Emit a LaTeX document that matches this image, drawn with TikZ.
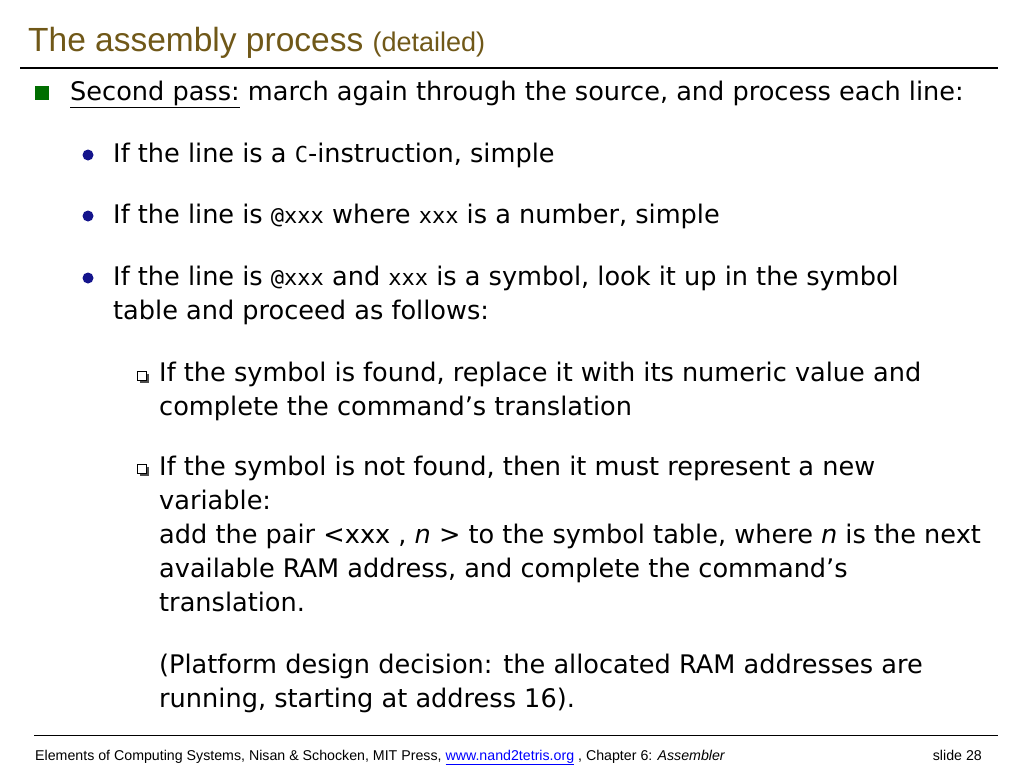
\documentclass[tikz,border=0pt]{standalone}
\usepackage{fontspec}
\setmainfont{DejaVu Sans}
\newfontfamily\titlefont{Liberation Sans}
\setmonofont{DejaVu Sans Mono}
\usetikzlibrary{positioning}
\definecolor{titlecol}{RGB}{112,88,24}
\definecolor{sqgreen}{RGB}{0,110,0}
\definecolor{dotblue}{RGB}{20,20,140}
\tikzset{
  body/.style={anchor=base west,inner sep=0pt,font=\fontsize{25.6}{30}\selectfont},
  foot/.style={anchor=base west,inner sep=0pt,font=\titlefont\fontsize{14.2}{16}\selectfont},
  dot/.style={circle,fill=dotblue,inner sep=0pt,minimum size=11pt},
  box/.style={draw=black,fill=white,inner sep=0pt,minimum size=9pt,line width=0.8pt}
}
\newcommand{\cw}[1]{{\ttfamily\fontsize{22}{26}\selectfont #1}}
\begin{document}
\begin{tikzpicture}[x=1pt,y=-1pt]
\useasboundingbox[fill=white] (0,0) rectangle (1024,768);
% title
\node[anchor=base west,inner sep=0pt,text=titlecol,font=\titlefont\fontsize{33.5}{38}\selectfont] (title) at (28,52) {The assembly process {\fontsize{27}{30}\selectfont (detailed)}};
\draw[line width=2pt] (20,68) -- (998,68);
% first level
\node[fill=sqgreen,inner sep=0pt,minimum size=14pt] (sq) at (42,93) {};
\node[body] (l1) at (70,100) {\underline{Second pass:} march again through the source, and process each line:};
\node[dot] (d1) at (88,155) {};
\node[body] (l2) at (113,162) {If the line is a \cw{C}-instruction, simple};
\node[dot] (d2) at (88,216) {};
\node[body] (l3) at (113,223) {If the line is \cw{@xxx} where \cw{xxx} is a number, simple};
\node[dot] (d3) at (88,278) {};
\node[body] (l4) at (113,285) {If the line is \cw{@xxx} and \cw{xxx} is a symbol, look it up in the symbol};
\node[body] (l5) at (113,319) {table and proceed as follows:};
% second level
\fill[black!70] (139.5,373.5) rectangle (148.5,382.5);
\node[box] (b1) at (142,376) {};
\node[body] (l6) at (159,381) {If the symbol is found, replace it with its numeric value and};
\node[body] (l7) at (159,415) {complete the command’s translation};
\fill[black!70] (139.5,466.5) rectangle (148.5,475.5);
\node[box] (b2) at (142,469) {};
\node[body] (l8) at (159,475) {If the symbol is not found, then it must represent a new};
\node[body] (l9) at (159,509) {variable:};
\node[body] (l10) at (159,543) {add the pair <xxx , \textit{n} > to the symbol table, where \textit{n} is the next};
\node[body] (l11) at (159,577) {available RAM address, and complete the command’s};
\node[body] (l12) at (159,611) {translation.};
\node[body] (l13) at (159,673) {(Platform design decision: the allocated RAM addresses are};
\node[body] (l14) at (159,707) {running, starting at address 16).};
% footer
\draw[line width=0.8pt] (34,735) -- (998,735);
\node[foot] (f1) at (35,760) {Elements of Computing Systems, Nisan \& Schocken, MIT Press, \textcolor{blue}{\underline{www.nand2tetris.org}} , Chapter 6: \textit{Assembler}};
\node[foot,anchor=base east] (f2) at (982,760) {slide 28};
\end{tikzpicture}
\end{document}
